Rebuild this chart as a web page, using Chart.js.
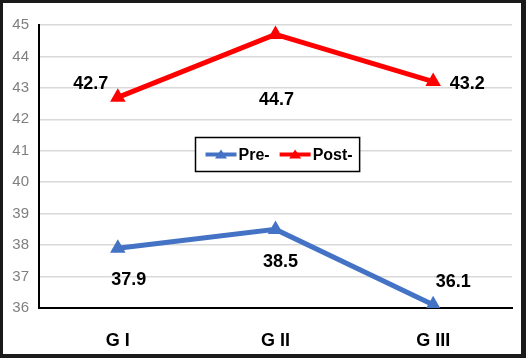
<!DOCTYPE html>
<html>
<head>
<meta charset="utf-8">
<script src="https://cdn.jsdelivr.net/npm/chart.js@4.4.1/dist/chart.umd.min.js"></script>
<style>
  html, body { margin: 0; padding: 0; background: #ffffff; }
  #frame {
    position: absolute; left: 0; top: 0;
    width: 526px; height: 358px; box-sizing: border-box;
    border: 3px solid #1a1a1a; border-right-width: 5px; border-bottom-width: 4px;
    background: #fff;
  }
  #wrap { position: absolute; left: 0; top: 0; width: 518px; height: 351px; }
</style>
</head>
<body>
<div id="frame"><div id="wrap"><canvas id="c" width="518" height="351"></canvas></div></div>
<script>
const categories = ["G I", "G II", "G III"];
const preValues = [37.9, 38.5, 36.1];
const postValues = [42.7, 44.7, 43.2];
const yTicks = [36, 37, 38, 39, 40, 41, 42, 43, 44, 45];
const seriesNames = ["Pre-", "Post-"];

const LABEL_FONT = "bold 18px 'Liberation Sans', Arial, sans-serif";

const dataLabelPlugin = {
  id: 'dataLabels',
  afterDatasetsDraw(chart, args, opts) {
    const ctx = chart.ctx;
    ctx.save();
    ctx.font = LABEL_FONT;
    ctx.fillStyle = '#000';
    ctx.textAlign = 'center';
    ctx.textBaseline = 'middle';
    chart.data.datasets.forEach((ds, di) => {
      const meta = chart.getDatasetMeta(di);
      meta.data.forEach((pt, i) => {
        const off = opts.offsets[di][i];
        ctx.fillText(ds.data[i].toFixed(1), pt.x + off[0], pt.y + off[1]);
      });
    });
    ctx.restore();
  }
};

const innerLegendPlugin = {
  id: 'innerLegend',
  afterDraw(chart, args, opts) {
    const ctx = chart.ctx;
    const ca = chart.chartArea;
    ctx.save();
    ctx.font = "bold 16px 'Liberation Sans', Arial, sans-serif";
    const pad = 10, sym = 31, gap = 10;
    const widths = chart.data.datasets.map(ds => ctx.measureText(ds.label).width);
    const w = pad + widths.reduce((a, b) => a + b, 0) + widths.length * (sym + 2) + gap * (widths.length - 1) + 7;
    const h = 34;
    const cx = (ca.left + ca.right) / 2 + 2;
    const cy = ca.top + (ca.bottom - ca.top) * 0.456;
    const x0 = Math.round(cx - w / 2) + 0.5, y0 = Math.round(cy - h / 2) + 0.5;
    ctx.fillStyle = '#fff';
    ctx.fillRect(x0, y0, w, h);
    ctx.strokeStyle = '#000';
    ctx.lineWidth = 1.5;
    ctx.strokeRect(x0, y0, w, h);
    ctx.textBaseline = 'middle';
    ctx.textAlign = 'left';
    let x = x0 + pad;
    chart.data.datasets.forEach((ds, i) => {
      const my = y0 + h / 2;
      ctx.strokeStyle = ds.borderColor;
      ctx.lineWidth = 4;
      ctx.beginPath();
      ctx.moveTo(x, my);
      ctx.lineTo(x + sym, my);
      ctx.stroke();
      ctx.fillStyle = ds.borderColor;
      ctx.beginPath();
      ctx.moveTo(x + sym / 2, my - 5);
      ctx.lineTo(x + sym / 2 + 6, my + 4);
      ctx.lineTo(x + sym / 2 - 6, my + 4);
      ctx.closePath();
      ctx.fill();
      ctx.fillStyle = '#000';
      ctx.fillText(ds.label, x + sym + 2, my + 1);
      x += sym + 2 + widths[i] + gap;
    });
    ctx.restore();
  }
};

new Chart(document.getElementById('c'), {
  type: 'line',
  data: {
    labels: categories,
    datasets: [
      {
        label: seriesNames[0],
        data: preValues,
        borderColor: '#4472C4',
        backgroundColor: '#4472C4',
        borderWidth: 5,
        pointStyle: 'triangle',
        pointRadius: 9,
        pointHoverRadius: 9,
        pointBorderWidth: 0,
        tension: 0
      },
      {
        label: seriesNames[1],
        data: postValues,
        borderColor: '#FF0000',
        backgroundColor: '#FF0000',
        borderWidth: 5,
        pointStyle: 'triangle',
        pointRadius: 9,
        pointHoverRadius: 9,
        pointBorderWidth: 0,
        tension: 0
      }
    ]
  },
  options: {
    responsive: false,
    animation: false,
    devicePixelRatio: 1,
    layout: { padding: { top: 22, right: 4, left: 0, bottom: 0 } },
    plugins: {
      legend: { display: false },
      tooltip: { enabled: false },
      dataLabels: {
        offsets: [
          [[11, 32], [5, 33], [20, -23]],
          [[-27, -13], [1, 66], [34, 2]]
        ]
      }
    },
    scales: {
      x: {
        offset: true,
        grid: { display: false, drawTicks: false },
        border: { display: true, color: '#000', width: 2 },
        ticks: {
          color: '#000',
          padding: 22,
          font: { family: "'Liberation Sans', Arial, sans-serif", size: 18, weight: 'bold' }
        },
        afterFit(s) { s.height = 46; }
      },
      y: {
        min: 36, max: 45,
        afterBuildTicks(s) { s.ticks = yTicks.map(v => ({ value: v })); },
        grid: { color: '#d9d9d9', lineWidth: 1.5, drawTicks: false },
        border: { display: true, color: '#000', width: 2 },
        ticks: {
          color: '#7f7f7f',
          padding: 10,
          font: { family: "'Liberation Sans', Arial, sans-serif", size: 15 }
        },
        afterFit(s) { s.width = 36; }
      }
    }
  },
  plugins: [dataLabelPlugin, innerLegendPlugin]
});
</script>
</body>
</html>
